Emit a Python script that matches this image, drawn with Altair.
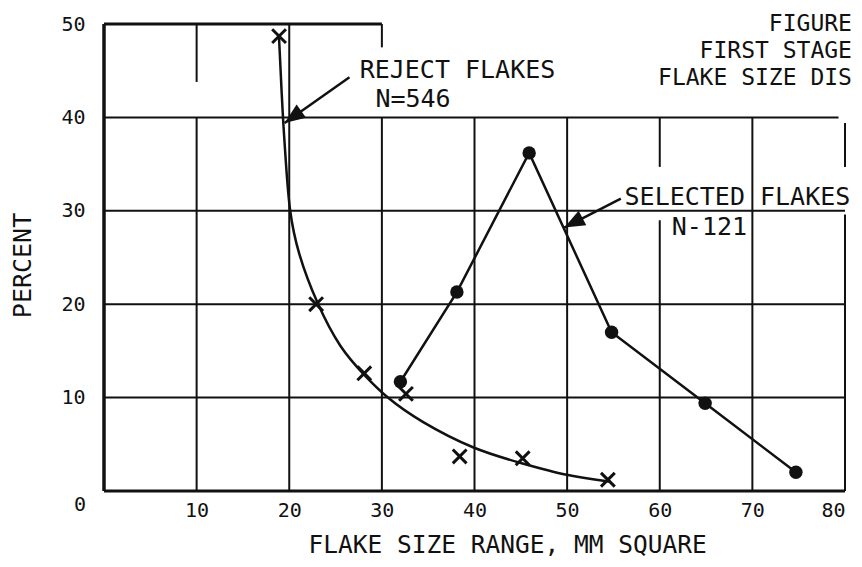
import altair as alt
import pandas as pd

# ---- data ----
# Selected flakes (filled circles, straight segments)
sel_x = [32.0, 38.1, 45.9, 54.8, 64.9, 74.7]
sel_y = [11.7, 21.3, 36.2, 17.0, 9.4, 2.0]

# Reject flakes (x markers)
rej_x = [18.9, 22.9, 28.1, 32.6, 38.4, 45.2, 54.4]
rej_y = [48.7, 20.0, 12.6, 10.4, 3.7, 3.5, 1.2]

# Hand-drawn fitted curve through the reject flakes
curve_x = [18.9, 19.3, 19.65, 20.0, 20.9, 23.0, 25.5, 28.3, 30.5, 34.0, 40.0, 45.0, 50.0, 54.7]
curve_y = [48.5, 40.0, 35.0, 30.0, 25.5, 20.0, 15.2, 12.2, 10.0, 7.5, 4.4, 3.0, 1.6, 1.0]

# Tick labels
x_ticks = [10, 20, 30, 40, 50, 60, 70, 80]
y_ticks = [10, 20, 30, 40, 50]

# Grid segments (hand drawn, partial)
gh_y = [40, 30, 20, 10]
gh_x1 = [0, 0, 0, 0]
gh_x2 = [79.3, 80, 80, 80]
gv_x = [10, 10, 20, 30, 30, 40, 50, 60, 60, 70, 80, 80]
gv_y1 = [0, 43.8, 0, 0, 47.5, 0, 0, 0, 34.7, 0, 0, 34.7]
gv_y2 = [40, 50, 50, 40, 50, 40, 40, 29.0, 40, 40, 29.6, 39.4]
# Frame lines (heavier)
fh_y = [0, 50]
fh_x1 = [0, 0]
fh_x2 = [80, 30]
fv_x = [0]
fv_y1 = [0]
fv_y2 = [50]

# Annotation arrows: start -> tip
arr_x1 = [26.5, 55.8]
arr_y1 = [44.3, 31.3]
arr_x2 = [19.5, 49.7]
arr_y2 = [39.4, 28.2]

# Annotation labels
ann_text = ["REJECT FLAKES", "N=546", "SELECTED FLAKES", "N-121"]
ann_x = [27.6, 29.3, 56.2, 61.3]
ann_y = [44.2, 41.1, 30.6, 27.4]

# Figure caption lines (top right, partly outside the scanned area)
title_text = ["FIGURE", "FIRST STAGE", "FLAKE SIZE DIS"]
title_x = [80.75, 80.75, 80.75]
title_y = [49.25, 46.36, 43.47]

corner_text = ["0"]
corner_x = [-2.6]
corner_y = [-1.5]

# ---- chart ----
INK = "#111111"
FONT = "DejaVu Sans Mono"

xs = alt.Scale(domain=[0, 80], nice=False, zero=False)
ys = alt.Scale(domain=[0, 50], nice=False, zero=False)

x_axis = alt.Axis(values=x_ticks, grid=False, domain=False, ticks=False,
                  labelFont=FONT, labelFontSize=20, labelColor=INK, labelPadding=9,
                  title="FLAKE SIZE RANGE, MM SQUARE", titleFont=FONT, titleFontSize=24.5,
                  titleFontWeight="normal", titleColor=INK, titleX=403, titleY=61,
                  titleAlign="center", titleBaseline="alphabetic")
y_axis = alt.Axis(values=y_ticks, grid=False, domain=False, ticks=False,
                  labelFont=FONT, labelFontSize=20, labelColor=INK, labelPadding=19,
                  title="PERCENT", titleFont=FONT, titleFontSize=25,
                  titleFontWeight="normal", titleColor=INK, titleX=-82, titleY=241,
                  titleAngle=270, titleAlign="center", titleBaseline="middle")

X = alt.X("x:Q", scale=xs, axis=x_axis)
Y = alt.Y("y:Q", scale=ys, axis=y_axis)

df_gh = pd.DataFrame({"y": gh_y, "x": gh_x1, "x2": gh_x2})
df_gv = pd.DataFrame({"x": gv_x, "y": gv_y1, "y2": gv_y2})
df_fh = pd.DataFrame({"y": fh_y, "x": fh_x1, "x2": fh_x2})
df_fv = pd.DataFrame({"x": fv_x, "y": fv_y1, "y2": fv_y2})

grid_h = alt.Chart(df_gh).mark_rule(color=INK, strokeWidth=2).encode(x=X, x2="x2:Q", y=Y)
grid_v = alt.Chart(df_gv).mark_rule(color=INK, strokeWidth=2).encode(x=X, y=Y, y2="y2:Q")
frame_h = alt.Chart(df_fh).mark_rule(color=INK, strokeWidth=3).encode(x=X, x2="x2:Q", y=Y)
frame_v = alt.Chart(df_fv).mark_rule(color=INK, strokeWidth=3.5).encode(x=X, y=Y, y2="y2:Q")

df_curve = pd.DataFrame({"x": curve_x, "y": curve_y})
curve = alt.Chart(df_curve).mark_line(color=INK, strokeWidth=2.5, interpolate="basis").encode(
    x=X, y=Y)

df_rej = pd.DataFrame({"x": rej_x, "y": rej_y})
rej_pts = alt.Chart(df_rej).mark_point(
    shape="M-1,-1L1,1M-1,1L1,-1", size=190, strokeWidth=3, color=INK, filled=False, opacity=1
).encode(x=X, y=Y)

df_sel = pd.DataFrame({"x": sel_x, "y": sel_y})
sel_line = alt.Chart(df_sel).mark_line(color=INK, strokeWidth=2.5).encode(x=X, y=Y)
sel_pts = alt.Chart(df_sel).mark_circle(size=180, color=INK, opacity=1).encode(x=X, y=Y)

df_arr = pd.DataFrame({"x": arr_x1, "y": arr_y1, "x2": arr_x2, "y2": arr_y2})
arrows = alt.Chart(df_arr).mark_rule(color=INK, strokeWidth=2.5).encode(
    x=X, y=Y, x2="x2:Q", y2="y2:Q")
head_shape = "M0,0L0.8,2L-0.8,2Z"
head1 = alt.Chart(pd.DataFrame({"x": [arr_x2[0]], "y": [arr_y2[0]]})).mark_point(
    shape=head_shape, size=420, filled=True, color=INK, opacity=1, angle=234.7
).encode(x=X, y=Y)
head2 = alt.Chart(pd.DataFrame({"x": [arr_x2[1]], "y": [arr_y2[1]]})).mark_point(
    shape=head_shape, size=420, filled=True, color=INK, opacity=1, angle=242.2
).encode(x=X, y=Y)

df_ann = pd.DataFrame({"x": ann_x, "y": ann_y, "t": ann_text})
ann = alt.Chart(df_ann).mark_text(font=FONT, fontSize=25, color=INK, align="left",
                                  baseline="alphabetic").encode(x=X, y=Y, text="t:N")

df_title = pd.DataFrame({"x": title_x, "y": title_y, "t": title_text})
titles = alt.Chart(df_title).mark_text(font=FONT, fontSize=23, color=INK, align="right",
                                       baseline="alphabetic").encode(x=X, y=Y, text="t:N")

df_corner = pd.DataFrame({"x": corner_x, "y": corner_y, "t": corner_text})
corner = alt.Chart(df_corner).mark_text(font=FONT, fontSize=20, color=INK, align="center",
                                        baseline="middle").encode(x=X, y=Y, text="t:N")

chart = alt.layer(
    grid_h, grid_v, frame_h, frame_v, curve, rej_pts, sel_line, sel_pts,
    arrows, head1, head2, ann, titles, corner
).properties(
    width=741, height=467,
    padding={"left": 96, "top": 16, "right": 9, "bottom": 68},
    autosize=alt.AutoSizeParams(type="none"),
    background="white",
).configure_view(stroke=None)

chart.save("out.html", embed_options={"renderer": "svg", "actions": False})
